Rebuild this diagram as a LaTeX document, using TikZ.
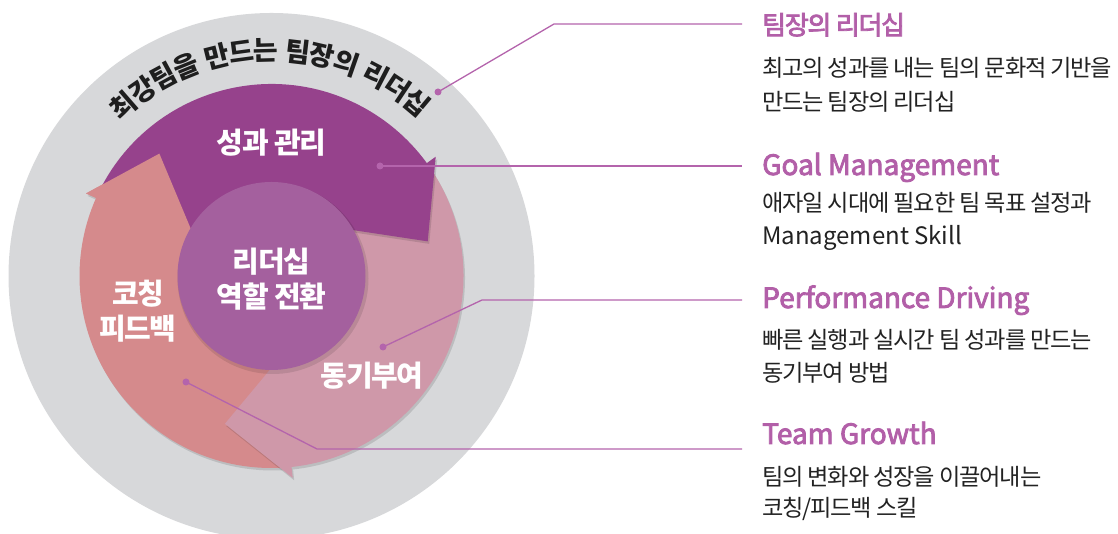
\documentclass[tikz,border=0pt]{standalone}
\usepackage{fontspec}
\setmainfont{Noto Sans CJK KR}
\newfontfamily\krtight[LetterSpace=-5]{Noto Sans CJK KR}
\newfontfamily\krmid[LetterSpace=-5,FakeBold=3]{Noto Sans CJK KR}
\newfontfamily\enmid[FakeBold=3]{Noto Sans CJK KR}
\usetikzlibrary{calc}

\definecolor{ringgray}{HTML}{D7D8DA}
\definecolor{arrpurple}{HTML}{96428C}
\definecolor{arrcoral}{HTML}{D58A8C}
\definecolor{arrpink}{HTML}{CF98A9}
\definecolor{corepurple}{HTML}{A4609E}
\definecolor{linkcol}{HTML}{B464AC}
\definecolor{headcol}{HTML}{B25FA8}
\definecolor{bodycol}{HTML}{222222}
\definecolor{ringtext}{HTML}{1E1E1E}

% #1 centre, #2 tail angle, #3 barb angle, #4 tip angle, #5 tip radius
\newcommand{\arrpath}[5]{($(#1)+(#2:82)$) -- ($(#1)+(#2:192)$) arc[start angle=#2, end angle=#3, radius=192pt] -- ($(#1)+(#3:203)$) -- ($(#1)+(#4:#5)$) -- ($(#1)+(#3:82)$) arc[start angle=#3, end angle=#2, radius=82pt] -- cycle}

\begin{document}
\begin{tikzpicture}[x=1pt,y=1pt,
  dot/.style={circle, fill=linkcol, inner sep=0pt, minimum size=7pt},
  link/.style={draw=linkcol, line width=1.3pt},
  wlabel/.style={text=white, align=center, inner sep=0pt, font=\krtight\bfseries\fontsize{29}{35}\selectfont},
  ringch/.style={anchor=base, inner sep=0pt, text=ringtext, font=\bfseries\fontsize{27}{27}\selectfont},
  headkr/.style={anchor=base west, inner sep=0pt, text=headcol, font=\krmid\fontsize{26}{30}\selectfont},
  headen/.style={anchor=base west, inner sep=0pt, text=headcol, font=\enmid\fontsize{28}{34}\selectfont},
  bodykr/.style={anchor=base west, inner sep=0pt, text=bodycol, font=\krtight\fontsize{23.2}{30}\selectfont},
  bodyen/.style={anchor=base west, inner sep=0pt, text=bodycol, font=\fontsize{24}{30}\selectfont},
  shade/.style={black, opacity=0.12}
]
\useasboundingbox (0,0) rectangle (1118,534);
\coordinate (C) at (271.5,258);
\coordinate (Cs) at (273,255.5);

% outer grey ring
\fill[ringgray] (C) circle[radius=263pt];

% three circular arrows
\fill[shade] \arrpath{Cs}{274.5}{156}{132.5}{166};
\fill[arrcoral] \arrpath{C}{274.5}{156}{132.5}{166};
\fill[shade] \arrpath{Cs}{34.5}{-84}{-107.5}{155};
\fill[arrpink] \arrpath{C}{34.5}{-84}{-107.5}{155};
\fill[shade] \arrpath{Cs}{154.5}{36}{12.5}{160};
\fill[arrpurple] \arrpath{C}{154.5}{36}{12.5}{160};
\fill[arrcoral] ($(C)+(156:203)$) -- ($(C)+(132.5:166)$) -- ($(C)+(156:82)$) -- cycle;

% centre disc
\fill[black, opacity=0.10] (Cs) circle[radius=95.5pt];
\node[circle, fill=corepurple, minimum size=188pt, inner sep=0pt] (core) at (C) {};
\node[wlabel] (coretext) at (271.5,255) {리더십\\역할 전환};

% arrow labels
\node[wlabel] (lperf) at (271.5,391) {성과 관리};
\node[wlabel] (lcoach) at (138,223) {코칭\\피드백};
\node[wlabel] (lmotiv) at (372,158) {동기부여};

% curved title on the grey ring
\foreach \ch/\ang [count=\i] in {최/131, 강/124.72, 팀/118.44, 을/112.16,
    만/104.0, 드/97.72, 는/91.44, 팀/83.28, 장/77.0, 의/70.72,
    리/62.56, 더/56.28, 십/50.0}
  \node[ringch, rotate=\ang-90] (rc\i) at ($(C)+(\ang:216)$) {\ch};

% connector dots and lines
\node[dot] (d1) at (438,442) {};
\node[dot] (d2) at (380,368) {};
\node[dot] (d3) at (383,187) {};
\node[dot] (d4) at (186,152) {};
\coordinate (k1) at (554,510);
\coordinate (k3) at (482,234);
\coordinate (k4) at (317,85);
\coordinate (e1) at (742,510);
\coordinate (e2) at (742,368);
\coordinate (e3) at (742,234);
\coordinate (e4) at (742,85);
\draw[link] (d1.center) -- (k1) -- (e1);
\draw[link] (d2.center) -- (e2);
\draw[link] (d3.center) -- (k3) -- (e3);
\draw[link] (d4.center) -- (k4) -- (e4);

% right-hand texts
\node[headkr] (h1) at (762,499.5) {팀장의 리더십};
\node[bodykr] (b1a) at (762,457.5) {최고의 성과를 내는 팀의 문화적 기반을};
\node[bodykr] (b1b) at (762,423.5) {만드는 팀장의 리더십};

\node[headen] (h2) at (762,359) {Goal Management};
\node[bodykr] (b2a) at (762,322.5) {애자일 시대에 필요한 팀 목표 설정과};
\node[bodyen] (b2b) at (762,289) {Management Skill};

\node[headen] (h3) at (762,226) {Performance Driving};
\node[bodykr] (b3a) at (762,185.5) {빠른 실행과 실시간 팀 성과를 만드는};
\node[bodykr] (b3b) at (762,152.5) {동기부여 방법};

\node[headen] (h4) at (762,90) {Team Growth};
\node[bodykr] (b4a) at (762,48.5) {팀의 변화와 성장을 이끌어내는};
\node[bodykr] (b4b) at (762,17.5) {코칭/피드백 스킬};
\end{tikzpicture}
\end{document}
